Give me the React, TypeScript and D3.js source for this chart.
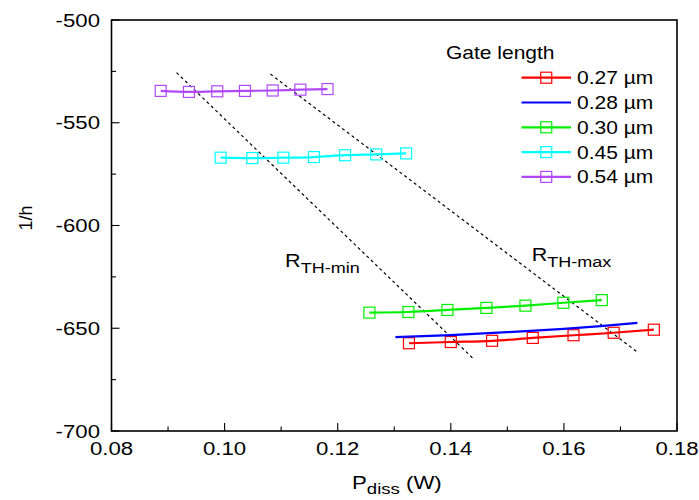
import React from "react";
import * as d3 from "d3";

const seriesNames = ["0.27 \u00b5m", "0.28 \u00b5m", "0.30 \u00b5m", "0.45 \u00b5m", "0.54 \u00b5m"];
const seriesColors = ["#ff0000", "#0000ff", "#00ee00", "#00ffff", "#b048f8"];
const seriesMarkers = [true, false, true, true, true];

const x027 = [0.1326, 0.14, 0.1473, 0.1545, 0.1617, 0.1688, 0.1759];
const y027 = [-657.3, -656.7, -656.1, -654.7, -653.4, -652.2, -650.7];
const x028 = [0.1302, 0.14, 0.15, 0.16, 0.1665, 0.173];
const y028 = [-654.3, -653.3, -651.9, -650.3, -649.0, -647.4];
const x030 = [0.1256, 0.1325, 0.1394, 0.1463, 0.1532, 0.1599, 0.1667];
const y030 = [-642.4, -642.1, -641.1, -640.1, -639.0, -637.6, -636.3];
const x045 = [0.0993, 0.1049, 0.1104, 0.1158, 0.1213, 0.1268, 0.1321];
const y045 = [-567.0, -567.2, -567.0, -566.7, -565.8, -565.4, -564.9];
const x054 = [0.0887, 0.0937, 0.0987, 0.1036, 0.1085, 0.1134, 0.1182];
const y054 = [-534.5, -535.0, -534.7, -534.5, -534.3, -533.9, -533.6];

const seriesX = [x027, x028, x030, x045, x054];
const seriesY = [y027, y028, y030, y045, y054];

const rthMinX = [0.0915, 0.1439];
const rthMinY = [-525.6, -664.6];
const rthMaxX = [0.1081, 0.1729];
const rthMaxY = [-526.3, -661.4];

const xTicks = [0.08, 0.1, 0.12, 0.14, 0.16, 0.18];
const xMinor = [0.09, 0.11, 0.13, 0.15, 0.17];
const yTicks = [-700, -650, -600, -550, -500];
const yMinor = [-675, -625, -575, -525];

const FONT = "'Liberation Sans', Arial, Helvetica, sans-serif";
const SX = 1.2;

function Txt({ x, y, size, anchor, children }: any) {
  return (
    <text transform={`translate(${x},${y}) scale(${SX},1)`} fontSize={size} textAnchor={anchor || "start"}>
      {children}
    </text>
  );
}

export default function App() {
  const W = 699, H = 500;
  const left = 111.5, right = 677, top = 20, bottom = 431;
  const x = d3.scaleLinear().domain([0.08, 0.18]).range([left, right]);
  const y = d3.scaleLinear().domain([-700, -500]).range([bottom, top]);
  const line = d3.line<[number, number]>().x(d => x(d[0])).y(d => y(d[1])).curve(d3.curveMonotoneX);
  const straight = d3.line<[number, number]>().x(d => x(d[0])).y(d => y(d[1]));
  const ms = 11;

  const legendX1 = 521.5, legendX2 = 571, legendY0 = 77.7, legendDy = 24.8;

  return (
    <svg width={W} height={H} style={{ position: "absolute", left: 0, top: 0, background: "#fff" }} fontFamily={FONT}>
      <rect x={0} y={0} width={W} height={H} fill="#fff" />
      {/* dashed R_TH lines */}
      <path d={straight(rthMinX.map((v, i) => [v, rthMinY[i]]) as any) || ""} stroke="#000" strokeWidth={1.2} strokeDasharray="3,3" fill="none" />
      <path d={straight(rthMaxX.map((v, i) => [v, rthMaxY[i]]) as any) || ""} stroke="#000" strokeWidth={1.2} strokeDasharray="3,3" fill="none" />
      {/* series */}
      {seriesX.map((xs, si) => {
        const pts = xs.map((v, i) => [v, seriesY[si][i]] as [number, number]);
        return (
          <g key={si}>
            <path d={line(pts) || ""} stroke={seriesColors[si]} strokeWidth={2.2} fill="none" />
            {seriesMarkers[si] && pts.map((p, i) => (
              <rect key={i} x={x(p[0]) - ms / 2} y={y(p[1]) - ms / 2} width={ms} height={ms}
                fill="none" stroke={seriesColors[si]} strokeWidth={1.2} />
            ))}
          </g>
        );
      })}
      {/* frame */}
      <rect x={left} y={top} width={right - left} height={bottom - top} fill="none" stroke="#000" strokeWidth={1.6} />
      {/* ticks */}
      {xTicks.map(t => (
        <g key={"xt" + t}>
          <line x1={x(t)} x2={x(t)} y1={bottom} y2={bottom - 8} stroke="#000" strokeWidth={1.1} />
          <Txt x={x(t)} y={455} size={18.5} anchor="middle">{d3.format(".2f")(t)}</Txt>
        </g>
      ))}
      {xMinor.map(t => (
        <line key={"xm" + t} x1={x(t)} x2={x(t)} y1={bottom} y2={bottom - 4.5} stroke="#000" strokeWidth={1.1} />
      ))}
      {yTicks.map(t => (
        <g key={"yt" + t}>
          <line x1={left} x2={left + 8} y1={y(t)} y2={y(t)} stroke="#000" strokeWidth={1.1} />
          <Txt x={100} y={y(t) + 6.5} size={18.5} anchor="end">{t}</Txt>
        </g>
      ))}
      {yMinor.map(t => (
        <line key={"ym" + t} x1={left} x2={left + 4.5} y1={y(t)} y2={y(t)} stroke="#000" strokeWidth={1.1} />
      ))}
      {/* axis titles */}
      <Txt x={352} y={489} size={18.5}>
        P<tspan fontSize={15.5} dy={5}>diss</tspan><tspan dy={-5}> (W)</tspan>
      </Txt>
      <text transform="translate(32,218) rotate(-90)" textAnchor="middle" fontSize={18}>1/h</text>
      {/* R_TH annotations */}
      <Txt x={x(0.1107)} y={y(-620.2)} size={18}>
        R<tspan fontSize={15} dy={6}>TH-min</tspan>
      </Txt>
      <Txt x={x(0.1543)} y={y(-617.3)} size={18}>
        R<tspan fontSize={15} dy={6}>TH-max</tspan>
      </Txt>
      {/* legend */}
      <Txt x={446} y={59} size={17.5}>Gate length</Txt>
      {seriesNames.map((n, i) => {
        const ly = legendY0 + i * legendDy;
        const cx = (legendX1 + legendX2) / 2;
        return (
          <g key={"lg" + i}>
            <line x1={legendX1} x2={legendX2} y1={ly} y2={ly} stroke={seriesColors[i]} strokeWidth={2.2} />
            {seriesMarkers[i] && (
              <rect x={cx - ms / 2} y={ly - ms / 2} width={ms} height={ms} fill="none" stroke={seriesColors[i]} strokeWidth={1.2} />
            )}
            <Txt x={577} y={ly + 6.5} size={17.5}>{n}</Txt>
          </g>
        );
      })}
    </svg>
  );
}
